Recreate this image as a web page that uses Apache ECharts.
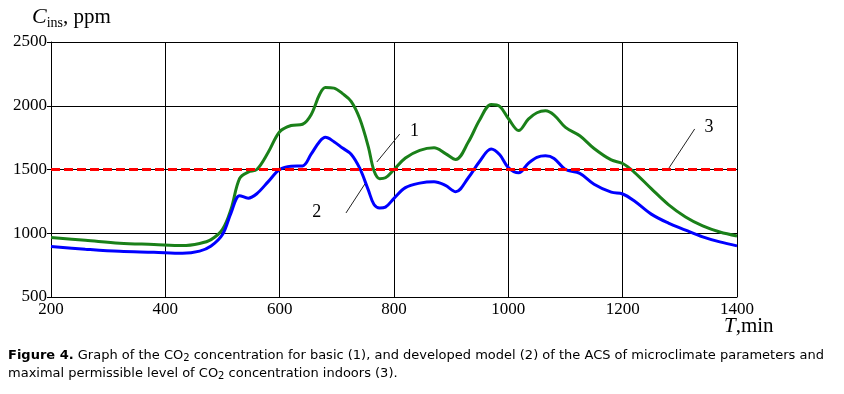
<!DOCTYPE html>
<html>
<head>
<meta charset="utf-8">
<script src="https://cdn.jsdelivr.net/npm/echarts@6/dist/echarts.min.js"></script>
<style>
html, body { margin: 0; padding: 0; background: #fff; }
#chart { width: 844px; height: 394px; }
</style>
</head>
<body>
<div id="chart"></div>
<script>
// time, min
const tMin = [200, 260, 320, 380, 430, 460, 480, 500, 515, 530, 545, 560, 580, 600, 620, 640, 655, 670, 680, 695,
    710, 725, 740, 755, 765, 775, 785, 800, 820, 845, 870, 890, 908, 930, 950, 970, 985, 1000, 1018, 1035,
    1050, 1065, 1080, 1100, 1125, 1150, 1180, 1200, 1220, 1250, 1280, 1310, 1340, 1370, 1400]

// curve 1 - basic model (green)
const basicC = [966, 945, 922, 912, 903, 920, 950, 1030, 1190, 1430, 1480, 1500, 1635, 1796, 1845, 1855, 1930, 2090, 2143, 2138,
    2095, 2035, 1900, 1680, 1490, 1428, 1435, 1500, 1590, 1650, 1670, 1625, 1578, 1715, 1890, 2010, 1995, 1900, 1805, 1895,
    1945, 1960, 1927, 1830, 1765, 1665, 1575, 1547, 1480, 1350, 1225, 1128, 1058, 1010, 979]

// curve 2 - developed model (blue)
const developedC = [896, 875, 858, 851, 843, 860, 900, 990, 1160, 1295, 1275, 1310, 1405, 1500, 1526, 1528, 1620, 1720, 1752, 1718,
    1668, 1620, 1510, 1340, 1225, 1198, 1205, 1274, 1358, 1393, 1404, 1375, 1326, 1435, 1565, 1660, 1615, 1515, 1474, 1548,
    1595, 1607, 1587, 1500, 1470, 1385, 1322, 1308, 1255, 1150, 1080, 1025, 972, 932, 901]

// curve 3 - permissible level
const limitT = [200, 1400]
const limitC = [1500, 1500]

// leader lines for the curve numbers: [t1, c1, t2, c2]
const leaders = [
    [770, 1559, 810, 1778],
    [716, 1159, 749, 1386],
    [1281, 1512, 1326, 1818]
]
const leaderLabels = [[836, 1802, '1'], [665, 1167, '2'], [1351, 1833, '3']]

const xTicks = { min: 200, max: 1400, interval: 200 }
const yTicks = { min: 500, max: 2500, interval: 500 }

const zip = (xs, ys) => xs.map((x, i) => [x, ys[i]])

const chart = echarts.init(document.getElementById('chart'))

const serif = 'Liberation Serif, Times New Roman, serif'
const capFont = 'DejaVu Sans, sans-serif'

let series = [
    {
        type: 'line',
        data: zip(tMin, basicC),
        smooth: 0.35,
        showSymbol: false,
        lineStyle: { color: '#1a8019', width: 3 },
        silent: true,
        z: 3
    },
    {
        type: 'line',
        data: zip(tMin, developedC),
        smooth: 0.35,
        showSymbol: false,
        lineStyle: { color: '#0000ff', width: 3 },
        silent: true,
        z: 3
    },
    {
        type: 'line',
        data: zip(limitT, limitC),
        showSymbol: false,
        lineStyle: { color: '#ff0000', width: 3, type: [9, 4] },
        silent: true,
        z: 4
    }
]

leaders.forEach(l => {
    series.push({
        type: 'line',
        data: [[l[0], l[1]], [l[2], l[3]]],
        showSymbol: false,
        lineStyle: { color: '#222', width: 1 },
        silent: true,
        z: 5
    })
})

// curve numbers
series.push({
    type: 'scatter',
    data: leaderLabels,
    symbolSize: 0,
    itemStyle: { color: '#000', opacity: 1 },
    label: {
        show: true,
        position: 'inside',
        formatter: p => p.data[2],
        fontFamily: serif,
        fontSize: 18,
        color: '#000',
        opacity: 1
    },
    silent: true,
    z: 6
})

let opt = {
    animation: false,
    grid: {
        left: 51,
        right: 107,
        top: 42,
        bottom: 97,
        containLabel: false
    },
    xAxis: {
        type: 'value',
        min: xTicks.min,
        max: xTicks.max,
        interval: xTicks.interval,
        axisLine: { show: true, onZero: false, lineStyle: { color: '#000', width: 1 } },
        axisTick: { show: false },
        splitLine: { show: true, lineStyle: { color: '#000', width: 1 } },
        axisLabel: { color: '#000', fontFamily: serif, fontSize: 17, margin: 4, formatter: v => String(v) }
    },
    yAxis: {
        type: 'value',
        min: yTicks.min,
        max: yTicks.max,
        interval: yTicks.interval,
        axisLine: { show: true, onZero: false, lineStyle: { color: '#000', width: 1 } },
        axisTick: { show: true, length: 4, lineStyle: { color: '#000' } },
        splitLine: { show: true, lineStyle: { color: '#000', width: 1 } },
        axisLabel: { color: '#000', fontFamily: serif, fontSize: 17, margin: 4, formatter: v => String(v) }
    },
    graphic: [
        {
            type: 'text',
            left: 32,
            top: 6,
            style: {
                text: '{c|C}{s|ins}{p|, ppm}',
                rich: {
                    c: { fontFamily: serif, fontStyle: 'italic', fontSize: 22, color: '#000' },
                    s: { fontFamily: serif, fontSize: 14, color: '#000', padding: [12, 0, 0, 0] },
                    p: { fontFamily: serif, fontSize: 21, color: '#000' }
                }
            }
        },
        {
            type: 'text',
            left: 724,
            top: 316,
            style: {
                text: '{t|T}{m|,min}',
                rich: {
                    t: { fontFamily: serif, fontStyle: 'italic', fontSize: 21, color: '#000' },
                    m: { fontFamily: serif, fontSize: 21, color: '#000' }
                }
            }
        },
        {
            type: 'text',
            left: 8,
            top: 349,
            style: {
                text: '{b|Figure 4.}{n| Graph of the CO}{s|2}{n| concentration for basic (1), and developed model (2) of the ACS of microclimate parameters and}',
                rich: {
                    b: { fontFamily: capFont, fontWeight: 'bold', fontSize: 13, color: '#000' },
                    n: { fontFamily: capFont, fontSize: 13, color: '#000' },
                    s: { fontFamily: capFont, fontSize: 10, color: '#000', padding: [6, 0, 0, 0] }
                }
            }
        },
        {
            type: 'text',
            left: 8,
            top: 367,
            style: {
                text: '{n|maximal permissible level of CO}{s|2}{n| concentration indoors (3).}',
                rich: {
                    n: { fontFamily: capFont, fontSize: 13, color: '#000' },
                    s: { fontFamily: capFont, fontSize: 10, color: '#000', padding: [6, 0, 0, 0] }
                }
            }
        }
    ],
    series: series
}
chart.setOption(opt)

window.addEventListener('resize', function() {
    chart.resize()
})
</script>
</body>
</html>
